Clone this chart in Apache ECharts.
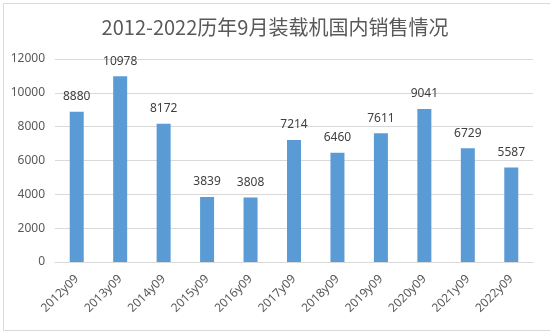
<!DOCTYPE html>
<html>
<head>
<meta charset="utf-8">
<script src="https://cdn.jsdelivr.net/npm/echarts@6/dist/echarts.min.js"></script>
<style>
  html, body { margin: 0; padding: 0; background: #fff; }
  #chart { width: 550px; height: 331px; }
</style>
</head>
<body>
<div id="chart"></div>
<script>
// Domestic loader sales in September, 2012-2022
const categories = ['2012y09', '2013y09', '2014y09', '2015y09', '2016y09', '2017y09',
                    '2018y09', '2019y09', '2020y09', '2021y09', '2022y09'];
const sales = [8880, 10978, 8172, 3839, 3808, 7214, 6460, 7611, 9041, 6729, 5587];
const titleText = '2012-2022历年9月装载机国内销售情况';

const textColor = '#595959';
const fontStack = '"Noto Sans", "Noto Sans CJK SC", sans-serif';

const chart = echarts.init(document.getElementById('chart'), null, { renderer: 'canvas' });
chart.setOption({
  animation: false,
  backgroundColor: '#ffffff',
  title: {
    text: titleText,
    left: 'center',
    top: 12,
    textStyle: {
      color: textColor,
      fontSize: 20,
      fontWeight: 'normal',
      fontFamily: '"Noto Sans CJK SC", sans-serif'
    }
  },
  graphic: [{
    type: 'rect',
    left: 1,
    top: 1,
    shape: { width: 547, height: 327 },
    style: { fill: 'none', stroke: '#d9d9d9', lineWidth: 1 },
    silent: true
  }],
  grid: { left: 55, right: 17, top: 59, bottom: 69, containLabel: false },
  xAxis: {
    type: 'category',
    data: categories,
    axisLine: { show: true, lineStyle: { color: '#d9d9d9' } },
    axisTick: { show: false },
    axisLabel: {
      rotate: 45,
      margin: 15,
      color: textColor,
      fontSize: 12,
      fontFamily: fontStack
    }
  },
  yAxis: {
    type: 'value',
    min: 0,
    max: 12000,
    interval: 2000,
    axisLine: { show: false },
    axisTick: { show: false },
    splitLine: { lineStyle: { color: '#d9d9d9' } },
    axisLabel: {
      margin: 10,
      color: textColor,
      fontSize: 12,
      fontFamily: fontStack,
      formatter: v => String(v)
    }
  },
  series: [{
    type: 'bar',
    data: sales,
    barWidth: 14,
    itemStyle: { color: '#5b9bd5' },
    label: {
      show: true,
      position: 'top',
      distance: 9,
      color: '#404040',
      fontSize: 12,
      fontFamily: fontStack
    }
  }]
});
</script>
</body>
</html>
